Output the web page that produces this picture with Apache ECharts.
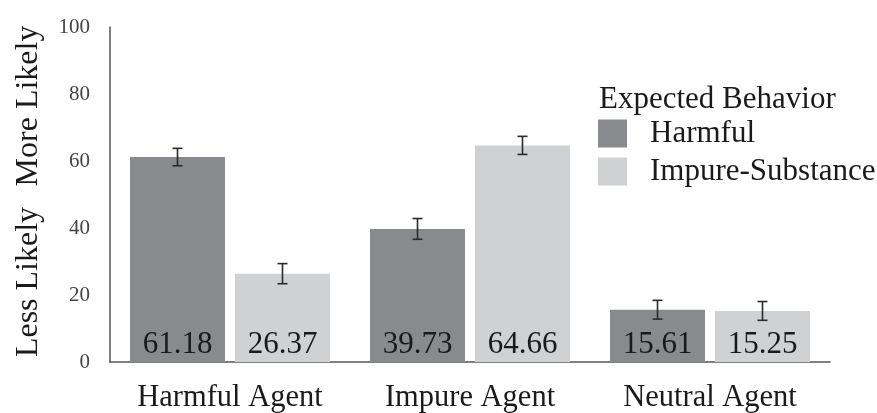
<!DOCTYPE html>
<html>
<head>
<meta charset="utf-8">
<script src="https://cdn.jsdelivr.net/npm/echarts@6/dist/echarts.min.js"></script>
<style>
  html, body { margin: 0; padding: 0; background: #fff; }
  #chart { width: 877px; height: 413px; }
</style>
</head>
<body>
<div id="chart"></div>
<script>
// Agent conditions on the x axis
var categories = ['Harmful Agent', 'Impure Agent', 'Neutral Agent'];
// Mean likelihood ratings per expected behavior
var harmfulMeans = [61.18, 39.73, 15.61];
var impureMeans = [26.37, 64.66, 15.25];
// Half-width of the error bars for each mean
var harmfulErr = [2.6, 3.1, 2.8];
var impureErr = [3.0, 2.7, 2.8];
var seriesNames = ['Harmful', 'Impure-Substance'];
var yTicks = [0, 20, 40, 60, 80, 100];

var FONT = '"Liberation Serif", "Times New Roman", serif';
var DARK = '#898a8e';
var LIGHT = '#d0d1d3';
var BAR_W = 95;
var BAR_GAP = 10;

function errorSeries(means, errs, side) {
  var data = means.map(function (m, i) { return [i, m - errs[i], m + errs[i]]; });
  return {
    type: 'custom',
    silent: true,
    z: 5,
    data: data,
    renderItem: function (params, api) {
      var i = api.value(0);
      var lo = api.coord([i, api.value(1)]);
      var hi = api.coord([i, api.value(2)]);
      var x = lo[0] + side * (BAR_W + BAR_GAP) / 2;
      var cap = 5;
      var st = { stroke: '#2a2a2a', lineWidth: 1.6 };
      return {
        type: 'group',
        children: [
          { type: 'line', shape: { x1: x, y1: hi[1], x2: x, y2: lo[1] }, style: st },
          { type: 'line', shape: { x1: x - cap, y1: hi[1], x2: x + cap, y2: hi[1] }, style: st },
          { type: 'line', shape: { x1: x - cap, y1: lo[1], x2: x + cap, y2: lo[1] }, style: st }
        ]
      };
    }
  };
}

var chart = echarts.init(document.getElementById('chart'), null, { renderer: 'canvas' });

var barLabel = {
  show: true,
  position: 'insideBottom',
  distance: 2,
  fontFamily: FONT,
  fontSize: 31,
  color: '#1a1a1a',
  formatter: function (p) { return p.value.toFixed(2); }
};

chart.setOption({
  animation: false,
  textStyle: { fontFamily: FONT },
  grid: { left: 110, right: 47, top: 27, bottom: 49, containLabel: false },
  title: {
    text: 'Expected Behavior',
    left: 594,
    top: 79,
    textStyle: { fontFamily: FONT, fontSize: 31, fontWeight: 'normal', color: '#1a1a1a' }
  },
  legend: {
    data: seriesNames,
    orient: 'vertical',
    left: 598,
    top: 118,
    padding: 0,
    itemWidth: 29,
    itemHeight: 28,
    itemGap: 7,
    icon: 'rect',
    textStyle: { fontFamily: FONT, fontSize: 31, color: '#1a1a1a', padding: [0, 0, 0, 18] }
  },
  xAxis: {
    type: 'category',
    data: categories,
    axisLine: { lineStyle: { color: '#555', width: 1.5 } },
    axisTick: { show: false },
    axisLabel: { interval: 0, fontFamily: FONT, fontSize: 30.5, color: '#1a1a1a', margin: 20 }
  },
  yAxis: {
    type: 'value',
    min: 0,
    max: 100,
    interval: 20,
    splitLine: { show: false },
    axisLine: { show: true, lineStyle: { color: '#555', width: 1.5 } },
    axisTick: { show: false },
    axisLabel: {
      fontFamily: FONT, fontSize: 21, color: '#444', margin: 20,
      formatter: function (v) { return yTicks.indexOf(v) >= 0 ? String(v) : ''; }
    }
  },
  graphic: [
    {
      type: 'text', x: 29, y: 106, rotation: Math.PI / 2,
      style: { text: 'More Likely', font: '32px ' + FONT, fill: '#1a1a1a', textAlign: 'center', textVerticalAlign: 'middle' }
    },
    {
      type: 'text', x: 29, y: 282, rotation: Math.PI / 2,
      style: { text: 'Less Likely', font: '32px ' + FONT, fill: '#1a1a1a', textAlign: 'center', textVerticalAlign: 'middle' }
    }
  ],
  series: [
    {
      name: seriesNames[0], type: 'bar', data: harmfulMeans,
      barWidth: BAR_W, barGap: (BAR_GAP / BAR_W * 100) + '%',
      itemStyle: { color: DARK }, label: barLabel
    },
    {
      name: seriesNames[1], type: 'bar', data: impureMeans,
      barWidth: BAR_W,
      itemStyle: { color: LIGHT }, label: barLabel
    },
    errorSeries(harmfulMeans, harmfulErr, -1),
    errorSeries(impureMeans, impureErr, 1)
  ]
});
</script>
</body>
</html>
